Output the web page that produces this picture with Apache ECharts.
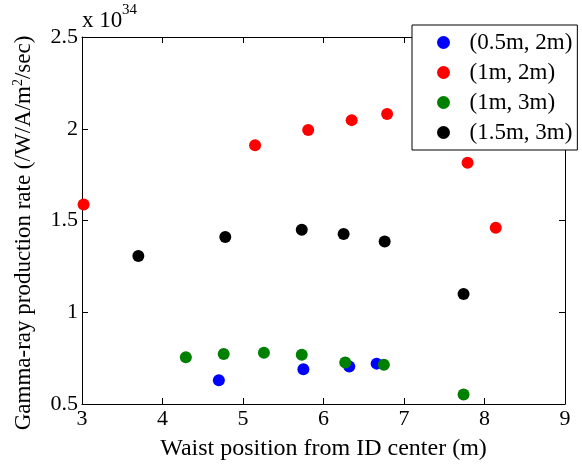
<!DOCTYPE html>
<html>
<head>
<meta charset="utf-8">
<script src="https://cdn.jsdelivr.net/npm/echarts@6/dist/echarts.min.js"></script>
<style>html,body{margin:0;padding:0;background:#fff;}#c{width:582px;height:466px;}</style>
</head>
<body>
<div id="c"></div>
<script>
var seriesNames = ['(0.5m, 2m)', '(1m, 2m)', '(1m, 3m)', '(1.5m, 3m)'];
var seriesColors = ['#0000ff', '#ff0000', '#008000', '#000000'];
var blueX = [4.70, 5.75, 6.32, 6.66];
var blueY = [0.63, 0.69, 0.705, 0.72];
var redX = [3.02, 5.15, 5.81, 6.35, 6.79, 7.79, 8.14];
var redY = [1.587, 1.91, 1.993, 2.047, 2.08, 1.815, 1.46];
var greenX = [4.29, 4.76, 5.26, 5.73, 6.27, 6.75, 7.74];
var greenY = [0.755, 0.773, 0.779, 0.768, 0.726, 0.714, 0.552];
var blackX = [3.70, 4.78, 5.73, 6.25, 6.76, 7.74];
var blackY = [1.307, 1.41, 1.45, 1.427, 1.385, 1.10];
var xTicks = [3, 4, 5, 6, 7, 8, 9];
var yTicks = [0.5, 1, 1.5, 2, 2.5];
var xTitle = 'Waist position from ID center (m)';
var yTitleMain = 'Gamma-ray production rate (/W/A/m';
var yTitleSup = '2';
var yTitleEnd = '/sec)';
var expBase = 'x 10';
var expPow = '34';

var FONT = '"Liberation Serif", "Times New Roman", serif';
function pairs(xs, ys) { return xs.map(function (x, i) { return [x, ys[i]]; }); }
var allX = [blueX, redX, greenX, blackX];
var allY = [blueY, redY, greenY, blackY];

var chart = echarts.init(document.getElementById('c'), null, {renderer: 'canvas'});
var axisCommon = {
  axisLine: {show: true, onZero: false, lineStyle: {color: '#000', width: 1}},
  axisTick: {show: true, inside: true, length: 6, lineStyle: {color: '#000'}},
  splitLine: {show: false}
};
var option = {
  backgroundColor: '#fff',
  animation: false,
  grid: {left: 82, right: 17, top: 37, bottom: 58},
  xAxis: [
    Object.assign({type: 'value', min: xTicks[0], max: xTicks[xTicks.length - 1], interval: 1, position: 'bottom',
      axisLabel: {color: '#000', fontFamily: FONT, fontSize: 22, margin: 4},
      name: xTitle, nameLocation: 'middle', nameGap: 33,
      nameTextStyle: {color: '#000', fontFamily: FONT, fontSize: 24}}, axisCommon),
    Object.assign({type: 'value', min: xTicks[0], max: xTicks[xTicks.length - 1], interval: 1, position: 'top',
      axisLabel: {show: false}}, axisCommon)
  ],
  yAxis: [
    Object.assign({type: 'value', min: yTicks[0], max: yTicks[yTicks.length - 1], interval: 0.5, position: 'left',
      axisLabel: {color: '#000', fontFamily: FONT, fontSize: 22, margin: 4}}, axisCommon),
    Object.assign({type: 'value', min: yTicks[0], max: yTicks[yTicks.length - 1], interval: 0.5, position: 'right',
      axisLabel: {show: false}}, axisCommon)
  ],
  legend: {
    orient: 'vertical', left: 412, top: 25,
    data: seriesNames,
    itemWidth: 42, itemHeight: 13, itemGap: 7,
    padding: [6, 5, 6, 25],
    backgroundColor: '#fff', borderColor: '#000', borderWidth: 1, borderRadius: 0,
    textStyle: {color: '#000', fontFamily: FONT, fontSize: 23},
    icon: 'circle'
  },
  graphic: [
    {type: 'text', left: 82, top: 9, style: {text: expBase, fill: '#000', font: '23px ' + FONT}},
    {type: 'text', left: 122, top: 3, style: {text: expPow, fill: '#000', font: '15px ' + FONT}},
    {type: 'text', x: 24, y: 233, rotation: Math.PI / 2,
      style: {
        text: '{a|' + yTitleMain + '}{s|' + yTitleSup + '}{a|' + yTitleEnd + '}',
        align: 'center', verticalAlign: 'middle', fill: '#000',
        rich: {
          a: {fontFamily: FONT, fontSize: 23, lineHeight: 26, fill: '#000'},
          s: {fontFamily: FONT, fontSize: 14, lineHeight: 26, verticalAlign: 'top', fill: '#000'}
        }
      }}
  ],
  series: seriesNames.map(function (n, i) {
    return {
      name: n, type: 'scatter', xAxisIndex: 0, yAxisIndex: 0,
      symbol: 'circle', symbolSize: 12,
      itemStyle: {color: seriesColors[i], opacity: 1},
      data: pairs(allX[i], allY[i]),
      clip: false
    };
  })
};
chart.setOption(option);
</script>
</body>
</html>
